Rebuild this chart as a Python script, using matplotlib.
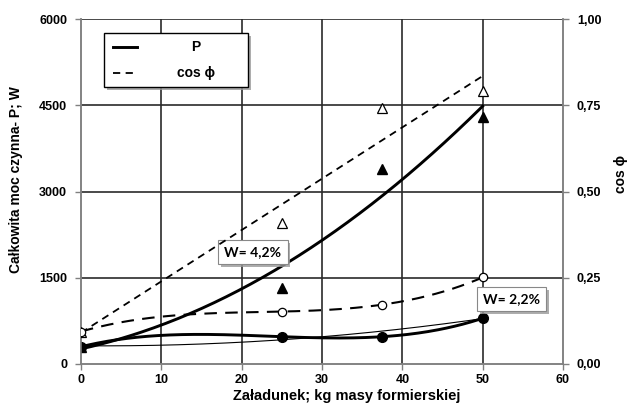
import numpy as np
import matplotlib
matplotlib.use("Agg")
import matplotlib.pyplot as plt
from matplotlib.lines import Line2D
from matplotlib.patches import Rectangle
import matplotlib.patheffects as pe

plt.rcParams['font.family'] = ['Liberation Sans', 'DejaVu Sans']

# Load [kg of moulding sand]
load = [0, 25, 37.5, 50]

# Active power P [W] and power factor, W = 2.2 %
p_w22 = [300, 475, 475, 795]
cos_w22 = [0.094, 0.152, 0.172, 0.251]

# Active power P [W] and power factor, W = 4.2 %
p_w42 = [300, 1320, 3400, 4290]
cos_w42 = [0.094, 0.41, 0.741, 0.792]

# Trend readings for the power curves (every 10 kg)
trend_x = [0, 10, 20, 30, 40, 50]
p_w42_trend = [260, 680, 1316, 2140, 3210, 4487]
p_w22_thin_trend = [313, 335, 375, 480, 600, 795]

x_ticks = [0, 10, 20, 30, 40, 50, 60]
p_ticks = [0, 1500, 3000, 4500, 6000]
cos_ticks = [0, 0.25, 0.5, 0.75, 1.0]
cos_tick_labels = ['0,00', '0,25', '0,50', '0,75', '1,00']

W, H = 629, 404
fig = plt.figure(figsize=(W / 100, H / 100), dpi=100)
AX_L, AX_R, AX_T, AX_B = 81, 563, 19, 364
ax = fig.add_axes([AX_L / W, (H - AX_B) / H, (AX_R - AX_L) / W, (AX_B - AX_T) / H])
ax2 = ax.twinx()


def axfrac(px, py):
    """Pixel position in the figure -> axes fraction."""
    return (px - AX_L) / (AX_R - AX_L), (AX_B - py) / (AX_B - AX_T)


xs = np.linspace(0, 50, 200)

# Grid
grid_c = '#2a2a2a'
for gx in x_ticks[1:-1]:
    ax.axvline(gx, color=grid_c, lw=1.2, zorder=0)
for gy in p_ticks[1:]:
    ax.axhline(gy, color=grid_c, lw=1.2, zorder=0)

# Power trends
c42 = np.polyfit(trend_x, p_w42_trend, 2)
ax.plot(xs, np.polyval(c42, xs), color='black', lw=2.1, zorder=3)
c22 = np.polyfit(load, p_w22, 3)
ax.plot(xs, np.polyval(c22, xs), color='black', lw=2.1, zorder=3)
ct = np.polyfit(trend_x, p_w22_thin_trend, 2)
ax.plot(xs, np.polyval(ct, xs), color='black', lw=0.8, zorder=3)

# Power factor trends
l42 = np.polyfit(load, cos_w42, 1)
ax2.plot(xs, np.polyval(l42, xs), color='black', lw=1.3, ls=(0, (4, 3)), zorder=3)
k22 = np.polyfit(load, cos_w22, 3)
ax2.plot(xs, np.polyval(k22, xs), color='black', lw=1.5, ls=(0, (6, 4)), zorder=3)

# Measured points
ax.plot(load, p_w42, ls='none', marker='^', ms=6.5, color='black', zorder=5)
ax.plot(load, p_w22, ls='none', marker='o', ms=7, color='black', zorder=6)
ax2.plot(load, cos_w42, ls='none', marker='^', ms=6.5, mfc='white', mec='black', mew=0.9, zorder=5)
ax2.plot(load, cos_w22, ls='none', marker='o', ms=6, mfc='white', mec='black', mew=0.9, zorder=6)

# Axes limits and ticks
ax.set_xlim(0, 60)
ax.set_ylim(0, 6000)
ax2.set_ylim(0, 1)
ax.set_xticks(x_ticks)
ax.set_xticklabels([str(v) for v in x_ticks], fontweight='bold', fontsize=9)
ax.set_yticks(p_ticks)
ax.set_yticklabels([str(v) for v in p_ticks], fontweight='bold', fontsize=9)
ax2.set_yticks(cos_ticks)
ax2.set_yticklabels(cos_tick_labels, fontweight='bold', fontsize=9)

spine_c = '#808080'
for a in (ax, ax2):
    for s in a.spines.values():
        s.set_color(spine_c)
        s.set_linewidth(1.1)
    a.spines['top'].set_visible(False)
    a.tick_params(colors=spine_c, labelcolor='black', length=4, width=1, direction='out')
ax.tick_params(axis='y', pad=6)
ax2.tick_params(axis='y', pad=6)
ax.tick_params(axis='x', pad=3)

# Axis titles
fig.text(347 / W, 1 - 396 / H, 'Załadunek; kg masy formierskiej', fontsize=10.5,
         fontweight='bold', ha='center', va='center')
fig.text(16 / W, 1 - 180 / H, 'Całkowita moc czynna- P; W', fontsize=10,
         fontweight='bold', ha='center', va='center', rotation=90)
fig.text(621 / W, 1 - 174 / H, 'cos ϕ', fontsize=10,
         fontweight='bold', ha='center', va='center', rotation=90)

# Legend box
shadow = [pe.withSimplePatchShadow(offset=(2, -2), shadow_rgbFace='#999999', alpha=0.8)]
lx0, ly0 = axfrac(104, 87)
lx1, ly1 = axfrac(248, 33)
frame = Rectangle((lx0, ly0), lx1 - lx0, ly1 - ly0, transform=ax.transAxes,
                  fc='white', ec='black', lw=1.0, zorder=10, clip_on=False)
frame.set_path_effects(shadow)
ax.add_patch(frame)
for (py, label, style, lw) in [(47, 'P', '-', 2.1), (73, 'cos ϕ', (0, (4, 3)), 1.3)]:
    hx0, hy = axfrac(113, py)
    hx1, _ = axfrac(137, py)
    ax.add_line(Line2D([hx0, hx1], [hy, hy], color='black', lw=lw, ls=style,
                       transform=ax.transAxes, zorder=11, clip_on=False))
    tx, _ = axfrac(196, py)
    ax.text(tx, hy, label, transform=ax.transAxes, fontsize=10, fontweight='bold',
            ha='center', va='center', zorder=11)

# Labels for the two moisture levels
box = dict(boxstyle='square,pad=0.45', fc='white', ec='#888888', lw=0.8)
t1 = ax.text(21.4, 1945, 'W= 4,2%', fontsize=10, fontweight='bold', family=['Lato', 'DejaVu Sans'],
             ha='center', va='center', bbox=box, zorder=8)
t2 = ax.text(53.6, 1130, 'W= 2,2%', fontsize=10, fontweight='bold', family=['Lato', 'DejaVu Sans'],
             ha='center', va='center', bbox=dict(box), zorder=8)
for t in (t1, t2):
    t.get_bbox_patch().set_path_effects(shadow)

fig.savefig('out.png', dpi=100)
